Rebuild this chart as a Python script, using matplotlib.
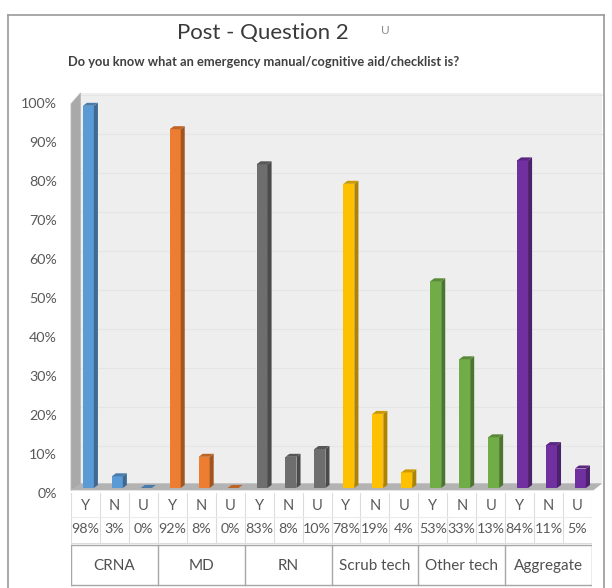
import matplotlib
matplotlib.use('Agg')
import matplotlib.pyplot as plt
import numpy as np
from matplotlib.patches import Polygon, Rectangle
from matplotlib.lines import Line2D
from matplotlib.transforms import ScaledTranslation

plt.rcParams['font.family'] = ['Lato', 'DejaVu Sans']

grupos = ['CRNA', 'MD', 'RN', 'Scrub tech', 'Other tech', 'Aggregate']
respostas = ['Y', 'N', 'U']
crna = [98, 3, 0]
md = [92, 8, 0]
rn = [83, 8, 10]
scrub = [78, 19, 4]
other = [53, 33, 13]
aggregate = [84, 11, 5]
cores = ['#5B9BD5', '#ED7D31', '#6E6E6E', '#FFC000', '#70AD47', '#7030A0']

valores = [crna, md, rn, scrub, other, aggregate]
W, H = 612, 588
fig = plt.figure(figsize=(W / 100, H / 100), dpi=100)
fig.patch.set_facecolor('white')

def fx(px):
    return px / W

def fy(py):
    return 1 - py / H

# moldura externa
for xs, ys in [([8, 8], [588, 15]), ([8, 604], [15, 15]), ([604, 604], [15, 588])]:
    fig.add_artist(Line2D([fx(x) for x in xs], [fy(y) for y in ys], color='#9a9a9a', lw=1.2))

fig.text(fx(263), fy(33), 'Post - Question 2', ha='center', va='center', fontsize=16, color='#3a3a3a')
fig.text(fx(385), fy(30), 'U', ha='center', va='center', fontsize=8.5, color='#8a8a8a')
fig.text(fx(264), fy(62), 'Do you know what an emergency manual/cognitive aid/checklist is?',
         ha='center', va='center', fontsize=9.3, fontweight='bold', color='#404040')

ax = fig.add_axes([fx(71), fy(488), fx(592) - fx(71), fy(98) - fy(488)])
ax.set_xlim(-0.5, 17.5)
ax.set_ylim(0, 100)
for s in ax.spines.values():
    s.set_visible(False)
ax.set_xticks([])
ax.set_yticks(np.arange(0, 101, 10))
ax.set_yticklabels([f'{v}%' for v in range(0, 101, 10)], fontsize=10.3, color='#595959')
ax.tick_params(axis='y', length=0, pad=10)
for lab in ax.get_yticklabels():
    lab.set_transform(lab.get_transform() + ScaledTranslation(0, -3.5 / 72, fig.dpi_scale_trans))

# paredes e piso do grafico 3D
dxw, dyw = 0.33, 0.8
ax.add_patch(Rectangle((-0.5 + dxw, dyw), 18.35 - dxw, 101.3 - dyw, facecolor='#eeeeee',
                       edgecolor='none', zorder=0, clip_on=False))
for g in range(10, 101, 10):
    ax.plot([-0.5 + dxw, 17.85], [g + dyw, g + dyw], color='#e5e5e5', lw=0.8, zorder=0.5, clip_on=False)
ax.add_patch(Polygon([(-0.5, -0.6), (-0.5, 98.5), (-0.5 + dxw, 101.3), (-0.5 + dxw, dyw)],
                     closed=True, facecolor='#a9a9a9', edgecolor='#b8b8b8', lw=0.6, zorder=1, clip_on=False))
ax.add_patch(Polygon([(-0.5, -0.6), (17.55, -0.6), (17.85, dyw + 0.4), (-0.5 + dxw, dyw + 0.4)],
                     closed=True, facecolor='#b3b3b3', edgecolor='none', zorder=1, clip_on=False))

# barras com face lateral e topo
larg, desl, dx, dy = 0.38, 0.1, 0.14, 0.77
x = np.arange(18)
for i, (vals, cor) in enumerate(zip(valores, cores)):
    base = np.array(matplotlib.colors.to_rgb(cor))
    for j, v in enumerate(vals):
        xc = x[i * 3 + j] + desl
        xl, xr = xc - larg / 2, xc + larg / 2
        ax.bar(xc, v, width=larg, color=cor, edgecolor='none', zorder=3)
        ax.add_patch(Polygon([(xr, 0), (xr + dx, dy), (xr + dx, v + dy), (xr, v)], closed=True,
                             facecolor=base * 0.68, edgecolor='none', zorder=3))
        ax.add_patch(Polygon([(xl, v), (xl + dx, v + dy), (xr + dx, v + dy), (xr, v)], closed=True,
                             facecolor=base * 0.8, edgecolor='none', zorder=3))

# tabela de dados
tab = fig.add_axes([fx(71), 0, fx(592) - fx(71), fy(493)])
tab.set_xlim(-0.5, 17.5)
tab.set_ylim(588, 493)
tab.axis('off')
for k in range(19):
    tab.plot([k - 0.5, k - 0.5], [493, 543], color='#dcdcdc', lw=0.8)
tab.plot([-0.5, 17.5], [517, 517], color='#ececec', lw=0.8)
tab.plot([-0.5, 17.5], [543, 543], color='#dcdcdc', lw=0.8)
for k in range(18):
    tab.text(k, 506, respostas[k % 3], ha='center', va='center', fontsize=10.5, color='#595959')
    tab.text(k, 529, f'{valores[k // 3][k % 3]}%', ha='center', va='center', fontsize=10.3, color='#595959')
tab.plot([-0.5, 17.5], [545, 545], color='#a6a6a6', lw=1)
tab.plot([-0.5, 17.5], [585, 585], color='#a6a6a6', lw=1)
for g in range(7):
    tab.plot([g * 3 - 0.5, g * 3 - 0.5], [545, 585], color='#a6a6a6', lw=1)
for g, nome in enumerate(grupos):
    tab.text(g * 3 + 1, 566, nome, ha='center', va='center', fontsize=11, color='#505050')

fig.savefig('out.png', dpi=100)
